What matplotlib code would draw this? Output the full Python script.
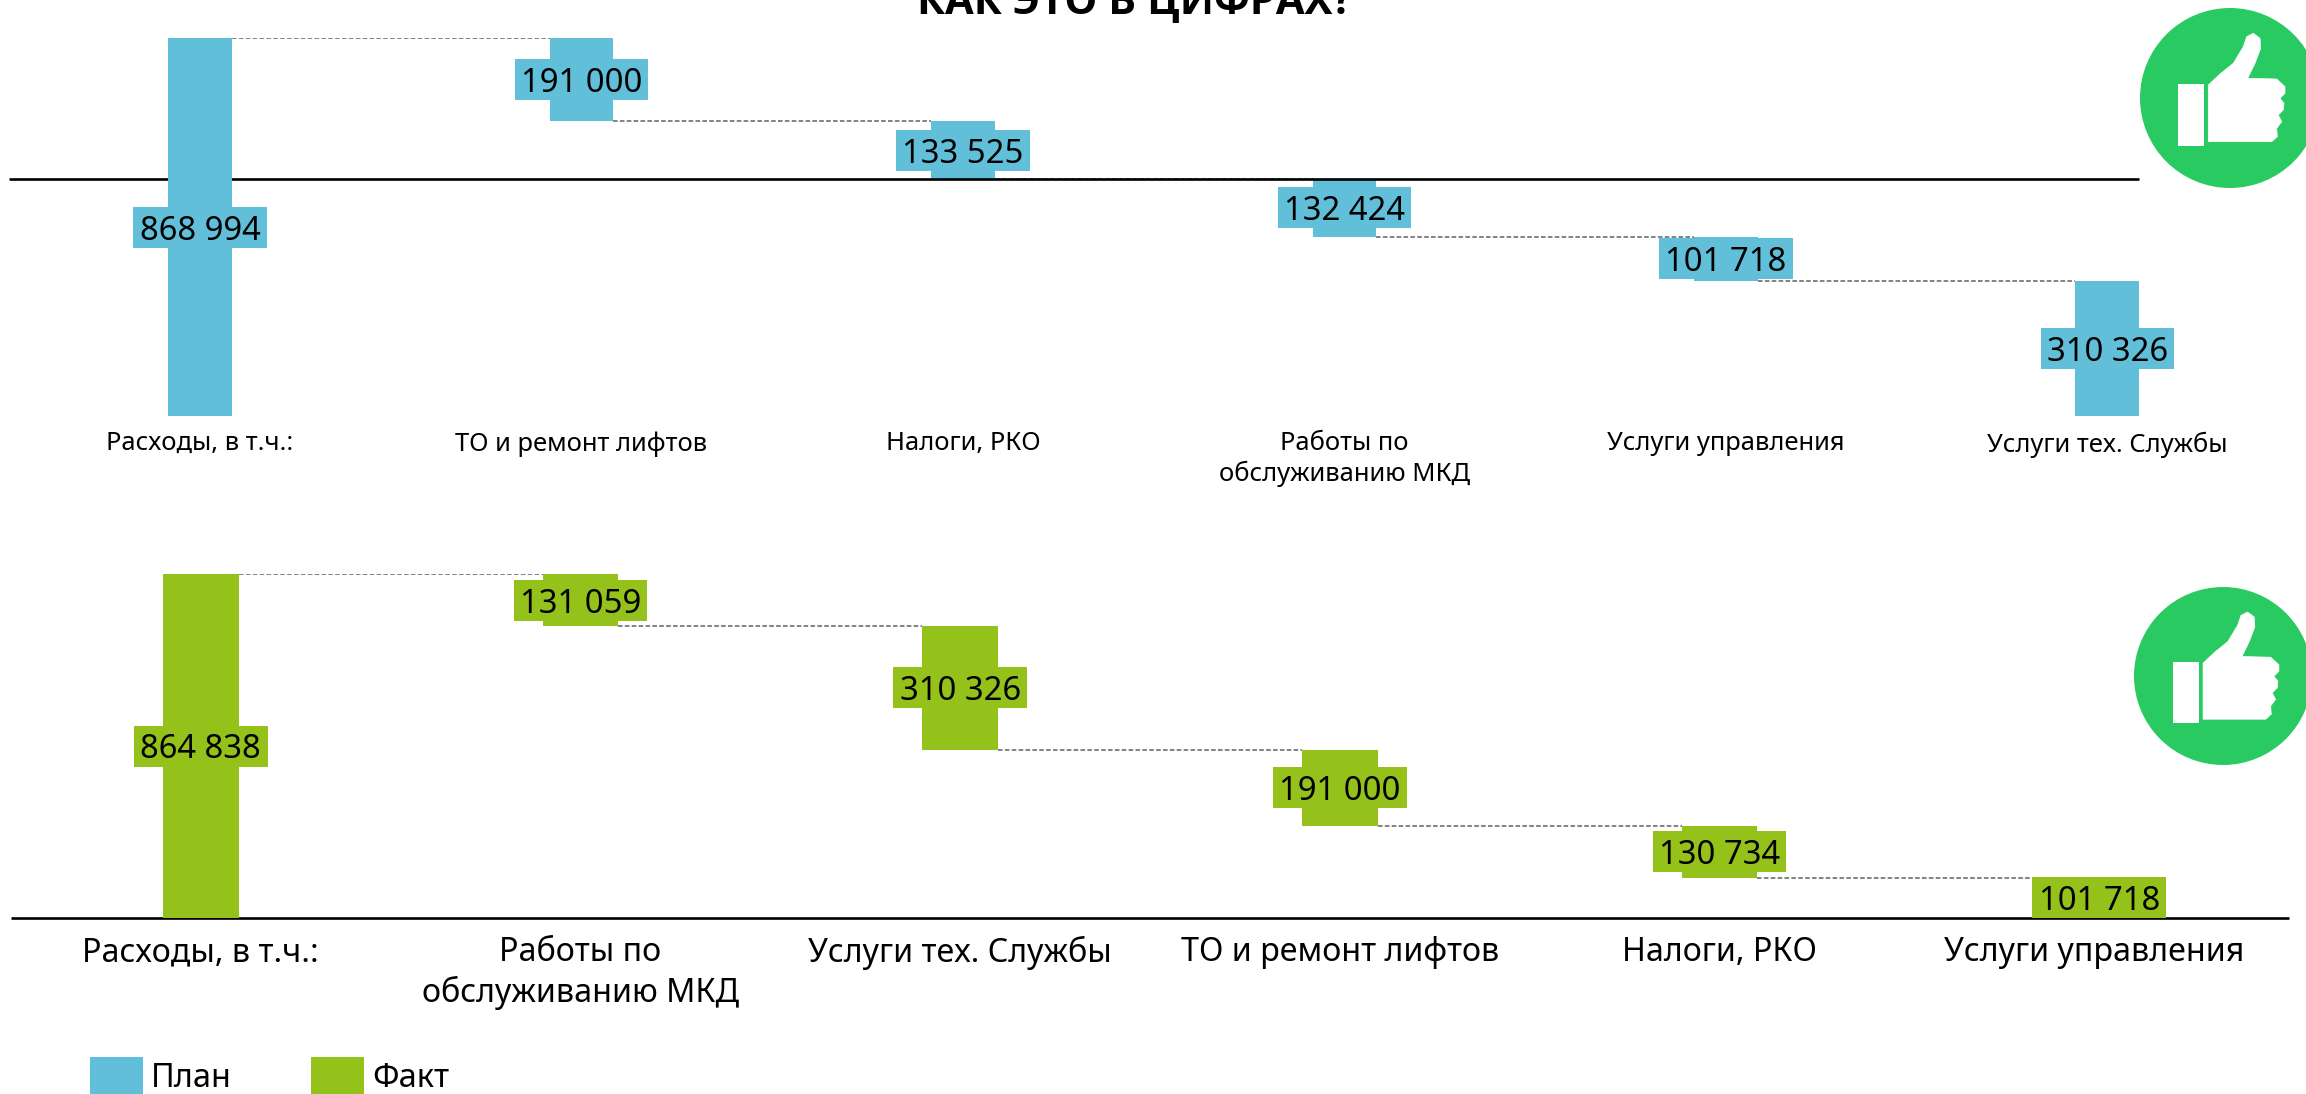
import numpy as np
import matplotlib
matplotlib.use("Agg")
import matplotlib.pyplot as plt
from matplotlib.patches import Circle, Patch, Polygon, Rectangle
from matplotlib.transforms import ScaledTranslation

plt.rcParams["font.family"] = ["Noto Sans", "DejaVu Sans"]

W, H = 2306, 1094
BLUE = "#62BFDA"
GREEN = "#95C11B"
ICON_GREEN = "#2ACA62"

plan_labels = ["Расходы, в т.ч.:", "ТО и ремонт лифтов", "Налоги, РКО",
               "Работы по\nобслуживанию МКД", "Услуги управления", "Услуги тех. Службы"]
plan_values = [868994, 191000, 133525, 132424, 101718, 310326]
plan_line_level = 544469

fact_labels = ["Расходы, в т.ч.:", "Работы по\nобслуживанию МКД", "Услуги тех. Службы",
               "ТО и ремонт лифтов", "Налоги, РКО", "Услуги управления"]
fact_values = [864838, 131059, 310326, 191000, 130734, 101718]

# thumb outline, px from the centre of the circle
hand_x = [-21.7, -21.7, -10, 3.3, 13.3, 16.7, 23.3, 30, 30.7, 25, 17.7, 46.7, 55, 55,
          50, 54, 53.3, 48.3, 51.7, 46.7, 47.3, 41.7]
hand_y = [43.7, -13, -24, -34.7, -51.3, -61.3, -64.7, -59.7, -49.7, -34.7, -19.7, -19,
          -11.3, -4.7, 0.3, 5.3, 12, 17, 23.7, 30.3, 38.7, 43.7]


def px_axes(fig, left, right, top, bottom):
    return fig.add_axes([left / W, 1 - bottom / H, (right - left) / W, (bottom - top) / H])


def waterfall(ax, labels, values, color, bar_width, tick_size, tick_pad, spacing, line_level, line_end):
    x = np.arange(len(values))
    tops = [values[0]] + [values[0] - sum(values[1:i]) for i in range(1, len(values))]
    bottoms = [0] + [tops[i] - values[i] for i in range(1, len(values))]

    bars = ax.bar(x, values, bottom=bottoms, width=bar_width, color=color, zorder=2)
    bars[0].set_zorder(4)

    for i in range(len(values) - 1):
        level = bottoms[i + 1] + values[i + 1] if i else values[0]
        ax.plot([x[i] + bar_width / 2, x[i + 1] - bar_width / 2], [level, level],
                color="#606060", linewidth=1.1, linestyle=(0, (3, 1.5)), zorder=1)

    ax.set_xlim(-0.5, 5.5)
    ax.set_ylim(0, values[0])

    # label boxes are the same size in pixels in both charts
    box_w = 133.5 / ax.bbox.width * 6
    box_h = 41 / ax.bbox.height * values[0]
    for xi, b, v in zip(x, bottoms, values):
        yc = b + v / 2
        ax.add_patch(Rectangle((xi - box_w / 2, yc - box_h / 2), box_w, box_h,
                               facecolor=color, edgecolor="none", zorder=5, clip_on=False))
        ax.text(xi, yc, f"{v:,}".replace(",", " "), ha="center", va="center_baseline",
                fontsize=23.6, color="black", zorder=6)

    ax.plot([-0.5, line_end], [line_level, line_level], color="black", linewidth=1.9,
            zorder=3, solid_capstyle="butt", clip_on=False)

    ax.set_yticks([])
    ax.set_xticks(x, labels, fontsize=tick_size, linespacing=spacing)
    ax.tick_params(axis="x", length=0, pad=tick_pad)
    for s in ax.spines.values():
        s.set_visible(False)
    ax.patch.set_alpha(0)


def thumb(ov, cx, cy, r, shift):
    k = r / 90.0
    ov.add_patch(Circle((cx, cy), r, color=ICON_GREEN, linewidth=0))
    pts = [(cx + shift + k * a, cy + k * b) for a, b in zip(hand_x, hand_y)]
    ov.add_patch(Polygon(pts, closed=True, facecolor="white", edgecolor="white",
                         linewidth=0.5, joinstyle="round"))
    ov.add_patch(Rectangle((cx + shift - 51.7 * k, cy - 13.7 * k), 25.7 * k, 61.7 * k,
                           facecolor="white", edgecolor="none"))


def main():
    fig = plt.figure(figsize=(W / 100, H / 100), dpi=100, facecolor="white")

    ov = fig.add_axes([0, 0, 1, 1])
    ov.set_xlim(0, W)
    ov.set_ylim(H, 0)
    ov.axis("off")
    thumb(ov, 2230, 98, 90, 0)
    thumb(ov, 2223, 676, 89, 1.5)

    top = px_axes(fig, 9.25, 2298, 38, 416)
    waterfall(top, plan_labels, plan_values, BLUE, 1 / 6, 18.4, 11, 1.2, plan_line_level, 5 + 1 / 12)

    bot = px_axes(fig, 11, 2289, 574, 918)
    waterfall(bot, fact_labels, fact_values, GREEN, 0.2, 23.2, 13, 1.25, 0, 5.5)
    last = bot.get_xticklabels()[5]
    last.set_transform(last.get_transform() + ScaledTranslation(-5 / 100, 0, fig.dpi_scale_trans))

    fig.text(1135 / W, 1 - 14 / H, "КАК ЭТО В ЦИФРАХ?", ha="center", va="baseline",
             fontsize=30, fontweight="bold", family=["Open Sans", "DejaVu Sans"], color="black")

    handles = [Patch(facecolor=BLUE, label="План"), Patch(facecolor=GREEN, label="Факт")]
    fig.legend(handles=handles, loc="lower left", bbox_to_anchor=(67 / W, -25 / H), ncol=2,
               frameon=False, fontsize=23.4, handlelength=1.63, handleheight=1.5,
               handletextpad=0.25, columnspacing=2.45, borderpad=0.2)

    fig.savefig("out.png", dpi=100)
    plt.close(fig)


if __name__ == "__main__":
    main()
